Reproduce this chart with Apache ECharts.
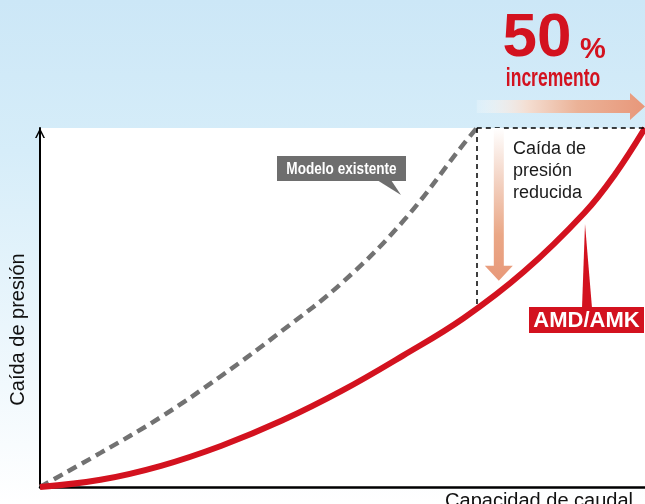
<!DOCTYPE html>
<html>
<head>
<meta charset="utf-8">
<script src="https://cdn.jsdelivr.net/npm/echarts@6/dist/echarts.min.js"></script>
<style>
html,body{margin:0;padding:0;}
#chart{width:645px;height:504px;}
</style>
</head>
<body>
<div id="chart"></div>
<script>
// Data (relative units)
const flowExisting = [0, 10, 20, 30, 40, 50, 60, 70, 72.2];
const dropExisting = [0, 9.5, 19.5, 31, 43.5, 57, 74, 95.5, 100];
const flowAmd = [0, 10, 20, 30, 40, 50, 60, 70, 80, 90, 95, 100];
const dropAmd = [0, 2.0, 5.9, 11.5, 18.5, 26.9, 36.6, 47.0, 60.0, 76.4, 87, 100];
const seriesNames = ['Modelo existente', 'AMD/AMK'];
const axisNames = ['Capacidad de caudal', 'Caída de presión'];
const refFlow = 72.2;   // flow of existing model at max pressure drop
const refDrop = 49.9;   // AMD/AMK pressure drop at that flow
const maxVal = 100;

const FONT = '"Liberation Sans", Arial, Helvetica, sans-serif';
const RED = '#d3121f';

const chart = echarts.init(document.getElementById('chart'), null, {renderer: 'canvas'});

const option = {
  backgroundColor: {
    type: 'linear', x: 0, y: 0, x2: 0, y2: 1,
    colorStops: [
      {offset: 0, color: '#cce7f7'},
      {offset: 0.3, color: '#d6edf9'},
      {offset: 1, color: '#ffffff'}
    ]
  },
  animation: false,
  grid: {left: 40, right: 0, top: 128, bottom: 17, show: true, backgroundColor: '#ffffff', borderWidth: 0,
         containLabel: false, outerBoundsMode: 'none'},
  xAxis: {
    type: 'value', min: 0, max: maxVal,
    name: axisNames[0], nameLocation: 'end', nameGap: -12,
    nameTextStyle: {align: 'right', verticalAlign: 'top', fontSize: 20, color: '#111', fontFamily: FONT, padding: [4, 0, 0, 0]},
    axisLine: {show: true, lineStyle: {color: '#000', width: 2.5}},
    axisTick: {show: false}, axisLabel: {show: false}, splitLine: {show: false}
  },
  yAxis: {
    type: 'value', min: 0, max: maxVal,
    name: axisNames[1], nameLocation: 'middle', nameGap: 12, nameRotate: 90,
    nameTextStyle: {fontSize: 20, color: '#111', fontFamily: FONT, padding: [0, 44, 0, 0]},
    axisLine: {
      show: true, lineStyle: {color: '#000', width: 2},
      symbol: ['none', 'path://M0,10 L5,0 L10,10 L8.4,10 L5,3.2 L1.6,10 Z'],
      symbolSize: [10, 10], symbolOffset: [0, -5]
    },
    axisTick: {show: false}, axisLabel: {show: false}, splitLine: {show: false}
  },
  series: [
    {
      name: seriesNames[0], type: 'line', smooth: 0.4, symbol: 'none',
      data: flowExisting.map((x, i) => [x, dropExisting[i]]),
      lineStyle: {color: '#727272', width: 4.5, type: [10, 6]},
      z: 3
    },
    {
      name: seriesNames[1], type: 'line', smooth: 0.4, symbol: 'none',
      data: flowAmd.map((x, i) => [x, dropAmd[i]]),
      lineStyle: {color: RED, width: 6},
      z: 4,
      markLine: {
        silent: true, symbol: 'none', label: {show: false},
        lineStyle: {color: '#000', width: 1.5, type: [5, 4]},
        data: [
          [{coord: [refFlow, maxVal]}, {coord: [maxVal, maxVal]}],
          [{coord: [refFlow, maxVal]}, {coord: [refFlow, refDrop]}]
        ]
      }
    }
  ]
};
chart.setOption(option);

// Annotations positioned from data coordinates
const p = (x, y) => chart.convertToPixel({gridIndex: 0}, [x, y]);
const corner = p(refFlow, maxVal);
const right = p(maxVal, maxVal);
const lowPt = p(refFlow, refDrop);

const hY = corner[1] - 21.5; // horizontal arrow center
const hx0 = corner[0], hx1 = right[0];
const vX = corner[0] + 22;   // vertical arrow center
const vy0 = corner[1], vy1 = lowPt[1] - 27;

chart.setOption({
  graphic: [
    // horizontal gradient arrow
    {
      type: 'polygon', z: 10,
      shape: {points: [[hx0, hY - 6.5], [hx1 - 15, hY - 6.5], [hx1 - 15, hY - 13.5], [hx1, hY], [hx1 - 15, hY + 13.5], [hx1 - 15, hY + 6.5], [hx0, hY + 6.5]]},
      style: {fill: {type: 'linear', x: 0, y: 0, x2: 1, y2: 0, colorStops: [
        {offset: 0, color: 'rgba(255,255,255,0.2)'},
        {offset: 0.3, color: 'rgba(244,222,210,1)'},
        {offset: 0.6, color: '#ebb297'},
        {offset: 1, color: '#e8977a'}]}}
    },
    // vertical gradient arrow
    {
      type: 'polygon', z: 10,
      shape: {points: [[vX - 5, vy0], [vX + 5, vy0], [vX + 5, vy1 - 15], [vX + 14, vy1 - 15], [vX, vy1], [vX - 14, vy1 - 15], [vX - 5, vy1 - 15]]},
      style: {fill: {type: 'linear', x: 0, y: 0, x2: 0, y2: 1, colorStops: [
        {offset: 0, color: '#ffffff'},
        {offset: 0.35, color: '#f3d2c2'},
        {offset: 0.7, color: '#eaa786'},
        {offset: 1, color: '#e8997a'}]}}
    },
    // 50 % incremento
    {type: 'text', x: 537, y: 39, z: 20, style: {text: '50', fill: RED, font: 'bold 62px ' + FONT, align: 'center', verticalAlign: 'middle'}},
    {type: 'text', x: 593, y: 50, z: 20, style: {text: '%', fill: RED, font: 'bold 29px ' + FONT, align: 'center', verticalAlign: 'middle'}},
    {type: 'text', x: 553, y: 79, z: 20, scaleX: 0.7, style: {text: 'incremento', fill: RED, font: 'bold 25px ' + FONT, align: 'center', verticalAlign: 'middle'}},
    // Caída de presión reducida
    {type: 'text', x: 513, y: 138, z: 20, style: {text: 'Caída de\npresión\nreducida', fill: '#1a1a1a', font: '18px ' + FONT, lineHeight: 22, align: 'left', verticalAlign: 'top'}},
    // Modelo existente callout
    {type: 'rect', z: 20, shape: {x: 277, y: 156, width: 129, height: 25}, style: {fill: '#6e6e6e'}},
    {type: 'polygon', z: 20, shape: {points: [[377, 180], [391, 180], [401, 195]]}, style: {fill: '#6e6e6e'}},
    {type: 'text', x: 341.5, y: 169, z: 21, scaleX: 0.8, style: {text: seriesNames[0], fill: '#ffffff', font: 'bold 17px ' + FONT, align: 'center', verticalAlign: 'middle'}},
    // AMD/AMK callout
    {type: 'rect', z: 20, shape: {x: 529, y: 307, width: 115, height: 26}, style: {fill: RED}},
    {type: 'polygon', z: 20, shape: {points: [[582, 308], [592, 308], [585, 224]]}, style: {fill: RED}},
    {type: 'text', x: 586.5, y: 321, z: 21, style: {text: seriesNames[1], fill: '#ffffff', font: 'bold 22px ' + FONT, align: 'center', verticalAlign: 'middle'}}
  ]
});
</script>
</body>
</html>
